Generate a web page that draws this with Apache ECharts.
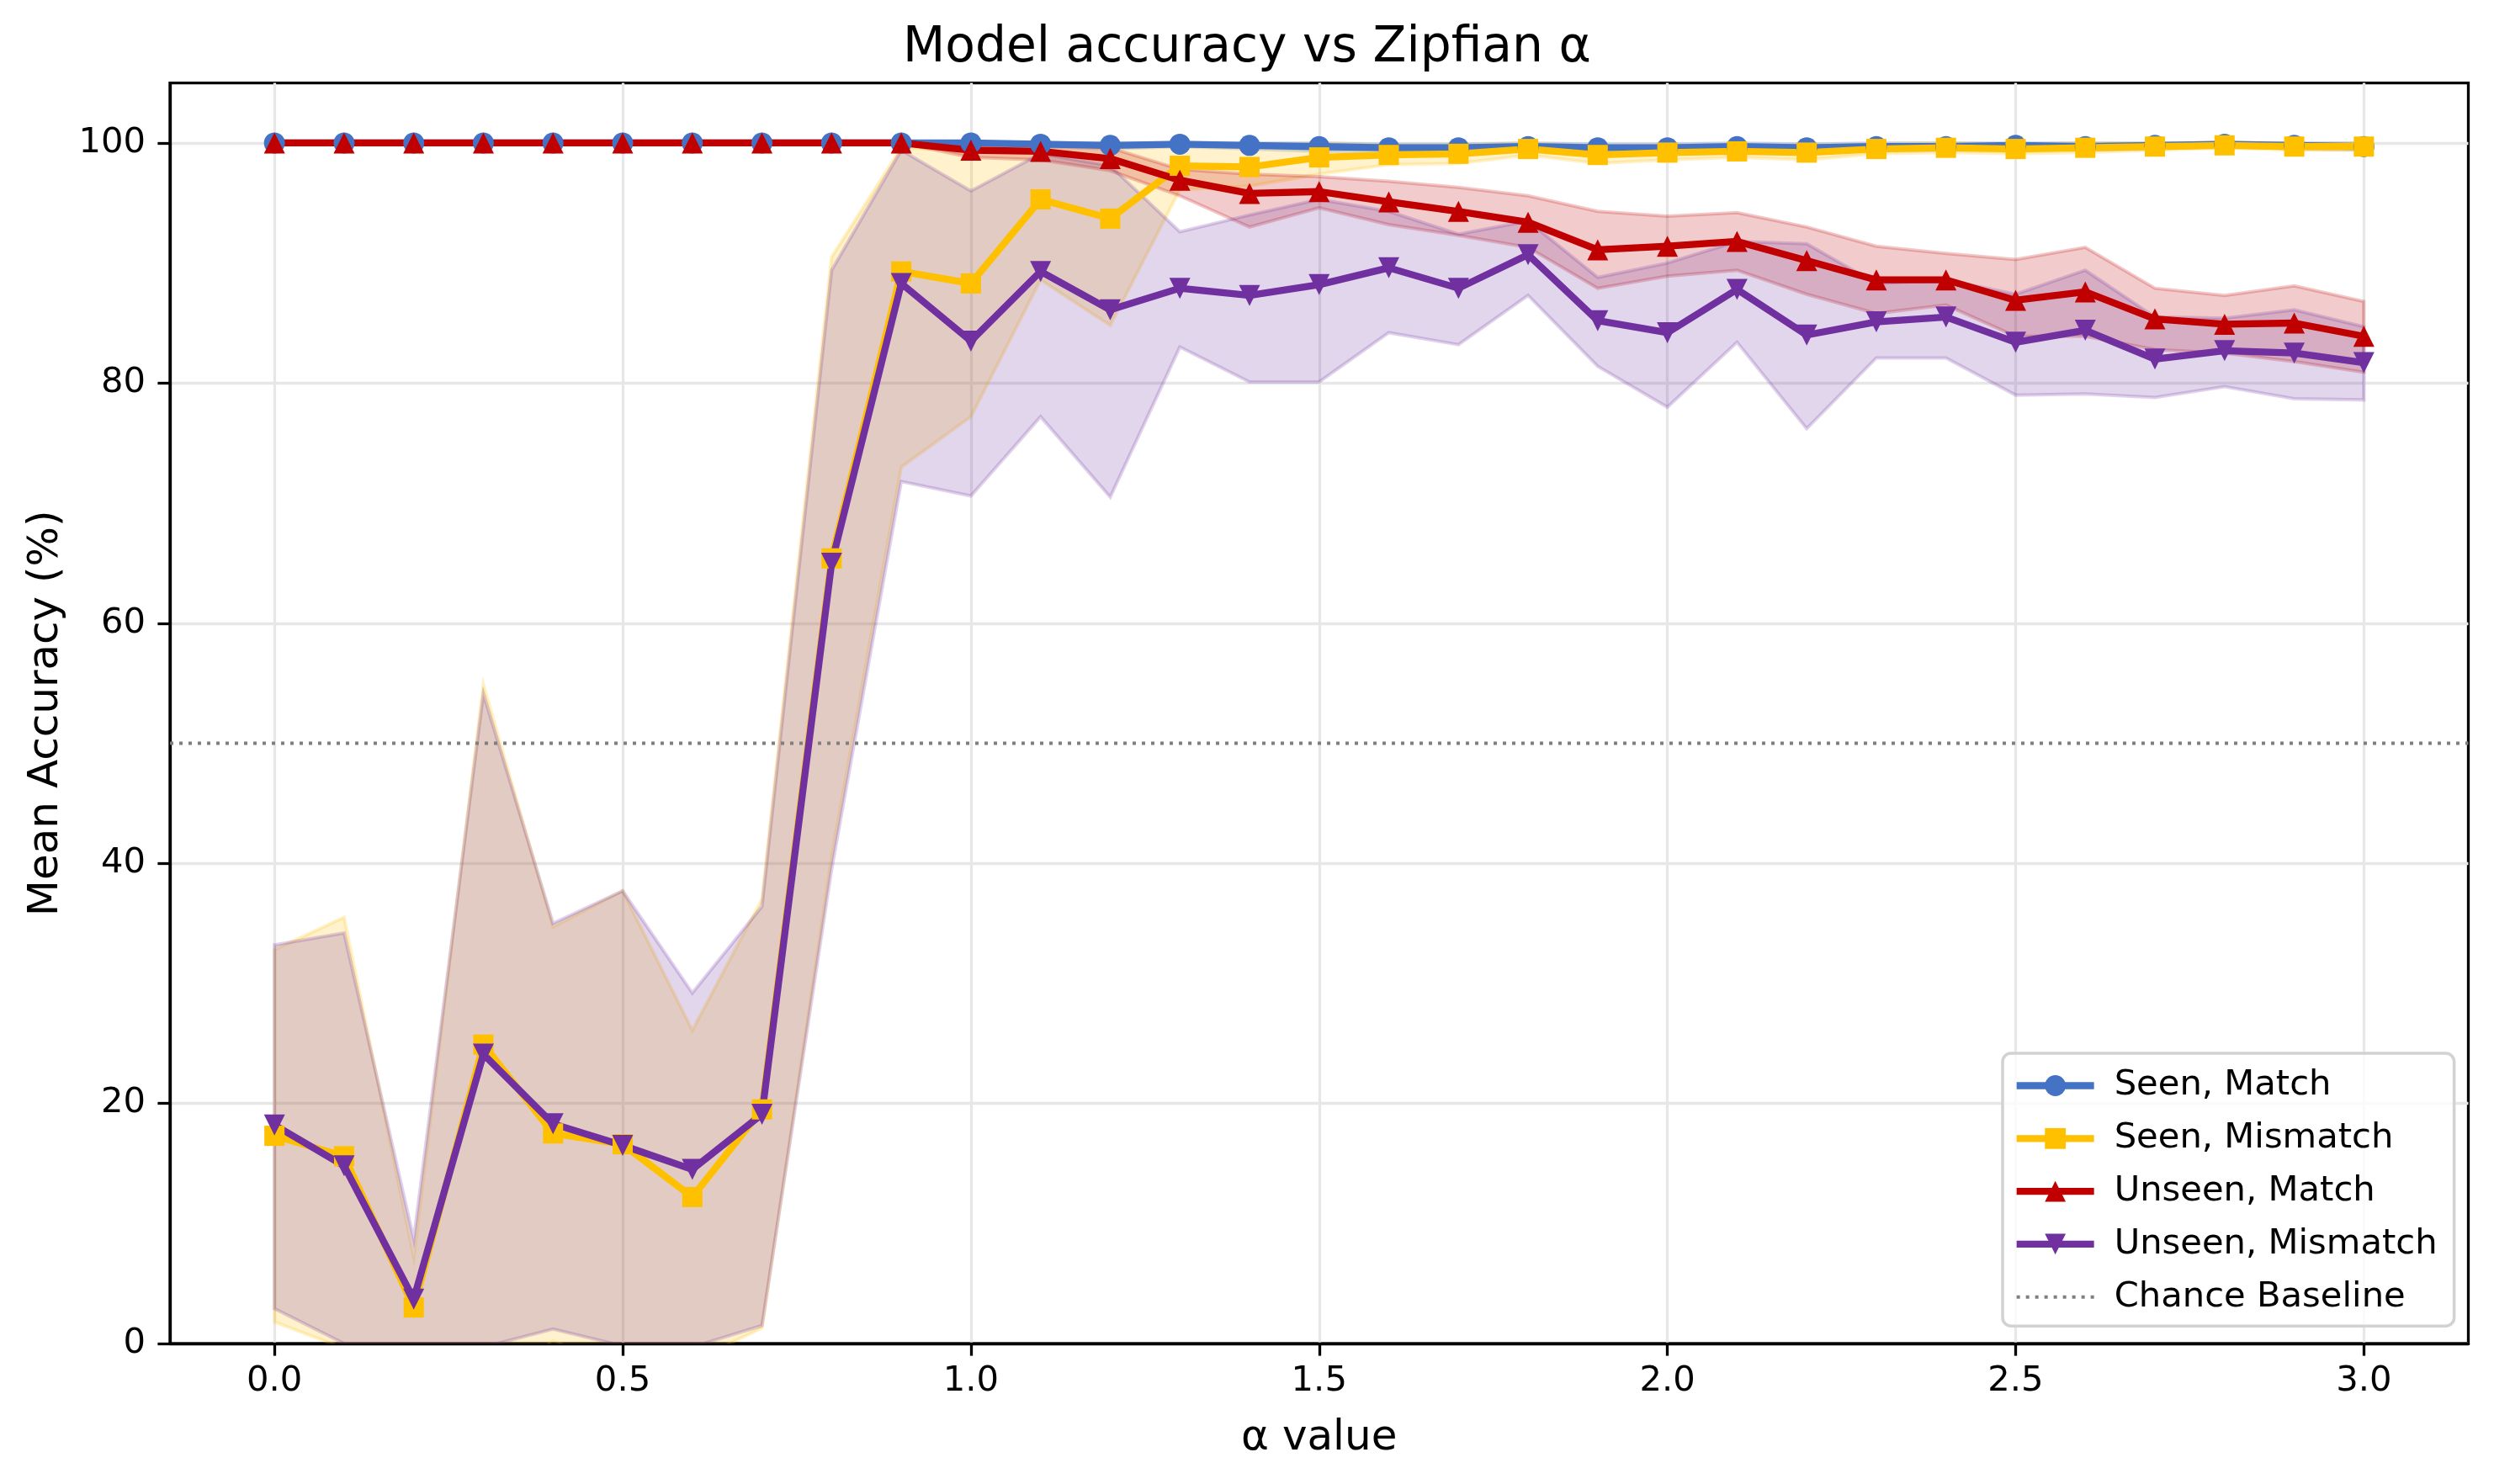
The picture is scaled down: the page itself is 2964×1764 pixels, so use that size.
<!DOCTYPE html>
<html>
<head>
<meta charset="utf-8">
<title>Model accuracy vs Zipfian α</title>
<script src="https://cdn.jsdelivr.net/npm/echarts@6/dist/echarts.min.js"></script>
<style>
html, body { margin: 0; padding: 0; background: #ffffff; }
#chart { width: 2964px; height: 1764px; }
</style>
</head>
<body>
<div id="chart"></div>
<script>
// alpha values on the x axis
var alphas = [0.0, 0.1, 0.2, 0.3, 0.4, 0.5, 0.6, 0.7, 0.8, 0.9, 1.0,
              1.1, 1.2, 1.3, 1.4, 1.5, 1.6, 1.7, 1.8, 1.9, 2.0,
              2.1, 2.2, 2.3, 2.4, 2.5, 2.6, 2.7, 2.8, 2.9, 3.0];

var xTicks = [0, 0.5, 1.0, 1.5, 2.0, 2.5, 3.0];
var yTicks = [0, 20, 40, 60, 80, 100];
var chanceLevel = 50;

// Seen, Match
var seenMatch   = [100, 100, 100, 100, 100, 100, 100, 100, 100, 100, 100.0,
                   99.9, 99.8, 99.9, 99.8, 99.7, 99.6, 99.6, 99.7, 99.6, 99.6,
                   99.7, 99.6, 99.7, 99.7, 99.8, 99.7, 99.8, 99.9, 99.8, 99.7];
var seenMatchHi = [100, 100, 100, 100, 100, 100, 100, 100, 100, 100, 100,
                   100, 100, 100, 100, 100, 99.9, 99.9, 100, 99.9, 99.9,
                   100, 99.9, 100, 100, 100, 100, 100, 100, 100, 100];
var seenMatchLo = [100, 100, 100, 100, 100, 100, 100, 100, 100, 100, 99.9,
                   99.7, 99.5, 99.7, 99.5, 99.3, 99.3, 99.2, 99.4, 99.2, 99.2,
                   99.3, 99.2, 99.4, 99.4, 99.5, 99.4, 99.5, 99.7, 99.5, 99.4];

// Seen, Mismatch
var seenMismatch   = [17.3, 15.6, 3.0, 24.9, 17.5, 16.6, 12.2, 19.5, 65.4, 89.3, 88.3,
                      95.3, 93.7, 98.1, 98.0, 98.8, 99.0, 99.1, 99.5, 99.0, 99.2,
                      99.3, 99.2, 99.5, 99.6, 99.5, 99.6, 99.7, 99.8, 99.7, 99.7];
var seenMismatchHi = [32.8, 35.5, 7.2, 54.9, 34.7, 37.7, 26.1, 37.0, 90.5, 99.6, 99.4,
                      100, 99.8, 100, 99.7, 100, 99.8, 99.8, 100, 99.7, 99.8,
                      99.8, 99.8, 99.9, 100, 99.9, 100, 100, 100, 100, 100];
var seenMismatchLo = [1.8, -0.4, -5.0, -4.0, 0.2, -2.0, -1.5, 1.3, 40.5, 73.0, 77.2,
                      88.6, 84.8, 96.1, 96.4, 97.4, 98.2, 98.3, 99.0, 98.3, 98.6,
                      98.8, 98.6, 99.1, 99.2, 99.1, 99.2, 99.4, 99.6, 99.4, 99.4];

// Unseen, Match
var unseenMatch   = [100, 100, 100, 100, 100, 100, 100, 100, 100, 100, 99.4,
                     99.3, 98.7, 96.9, 95.8, 95.95, 95.1, 94.3, 93.4, 91.1, 91.4,
                     91.8, 90.2, 88.6, 88.6, 86.9, 87.6, 85.35, 84.9, 85.0, 83.9];
var unseenMatchHi = [100, 100, 100, 100, 100, 100, 100, 100, 100, 100, 100,
                     100, 99.6, 97.8, 97.4, 97.2, 96.8, 96.3, 95.6, 94.3, 93.9,
                     94.2, 93.0, 91.4, 90.8, 90.3, 91.3, 87.9, 87.3, 88.1, 86.8];
var unseenMatchLo = [100, 100, 100, 100, 100, 100, 100, 100, 100, 100, 98.8,
                     98.6, 97.7, 95.6, 93.0, 94.6, 93.2, 92.3, 91.3, 87.9, 88.9,
                     89.4, 87.4, 85.8, 86.5, 83.9, 83.9, 82.8, 82.5, 81.8, 80.9];

// Unseen, Mismatch
var unseenMismatch   = [18.2, 14.8, 3.7, 24.1, 18.3, 16.5, 14.5, 19.1, 65.0, 88.3, 83.5,
                        89.3, 86.1, 87.9, 87.3, 88.2, 89.6, 87.9, 90.7, 85.2, 84.2,
                        87.8, 84.0, 85.1, 85.5, 83.4, 84.4, 82.0, 82.7, 82.5, 81.7];
var unseenMismatchHi = [33.2, 34.2, 8.7, 54.1, 35.0, 37.7, 29.2, 36.4, 89.4, 99.4, 96.0,
                        99.1, 98.1, 92.6, 94.0, 95.3, 94.3, 92.4, 93.5, 88.8, 90.0,
                        91.8, 91.6, 88.3, 88.6, 87.4, 89.4, 85.5, 85.4, 86.1, 84.7];
var unseenMismatchLo = [2.9, 0.0, -3.0, -0.3, 1.2, -0.2, -0.3, 1.5, 39.5, 71.8, 70.6,
                        77.2, 70.5, 83.0, 80.1, 80.1, 84.2, 83.2, 87.3, 81.4, 78.0,
                        83.4, 76.2, 82.1, 82.1, 79.0, 79.1, 78.8, 79.7, 78.7, 78.6];

var FONT = 'DejaVu Sans';

var conds = [
    { name: 'Seen, Match', color: '#4472C4', rgb: '68,114,196', symbol: 'circle', size: 25,
      mean: seenMatch, hi: seenMatchHi, lo: seenMatchLo },
    { name: 'Seen, Mismatch', color: '#FFC000', rgb: '255,192,0', symbol: 'rect', size: 24,
      mean: seenMismatch, hi: seenMismatchHi, lo: seenMismatchLo },
    { name: 'Unseen, Match', color: '#C00000', rgb: '192,0,0', symbol: 'triangle', size: 25,
      mean: unseenMatch, hi: unseenMatchHi, lo: unseenMatchLo },
    { name: 'Unseen, Mismatch', color: '#7030A0', rgb: '112,48,160', symbol: 'path://M0,0 L2,0 L1,2 Z', size: 25,
      mean: unseenMismatch, hi: unseenMismatchHi, lo: unseenMismatchLo }
];

function pairs(vals) {
    var out = [];
    for (var i = 0; i < alphas.length; i++) {
        out.push([alphas[i], vals[i]]);
    }
    return out;
}

// one filled polygon per condition: upper edge forward, lower edge back
function bandRenderer(c) {
    return function (params, api) {
        if (params.dataIndex !== 0) return null;
        var pts = [];
        for (var i = 0; i < alphas.length; i++) {
            pts.push(api.coord([alphas[i], c.hi[i]]));
        }
        for (var j = alphas.length - 1; j >= 0; j--) {
            pts.push(api.coord([alphas[j], c.lo[j]]));
        }
        return {
            type: 'polygon',
            shape: { points: pts },
            style: { fill: 'rgba(' + c.rgb + ',0.2)', stroke: 'rgba(' + c.rgb + ',0.22)', lineWidth: 4 }
        };
    };
}

var series = [];

conds.forEach(function (c, idx) {
    var rows = [];
    for (var i = 0; i < alphas.length; i++) {
        rows.push([alphas[i], c.lo[i], c.hi[i]]);
    }
    series.push({
        type: 'custom', name: 'band-' + idx, data: rows,
        encode: { x: 0, y: [1, 2] },
        renderItem: bandRenderer(c), clip: true, silent: true, z: 1
    });
});

// chance baseline
series.push({
    type: 'line', name: 'Chance Baseline', data: [[-0.15, chanceLevel], [3.15, chanceLevel]],
    symbol: 'none', z: 2, silent: true,
    lineStyle: { color: '#7f7f7f', width: 4, type: [4, 7], cap: 'butt' }
});

// mean lines with markers
conds.forEach(function (c) {
    series.push({
        type: 'line', name: c.name, data: pairs(c.mean), z: 3,
        symbol: c.symbol, symbolSize: c.size, showAllSymbol: true,
        itemStyle: { color: c.color, opacity: 1 },
        lineStyle: { color: c.color, width: 8.3 }
    });
});

var legendItems = conds.map(function (c) {
    return { name: c.name, lineStyle: { width: 8.3 } };
});
legendItems.push({ name: 'Chance Baseline', lineStyle: { width: 4 }, itemStyle: { opacity: 0 } });

var chart = echarts.init(document.getElementById('chart'), null, { renderer: 'canvas' });

chart.setOption({
    animation: false,
    backgroundColor: '#ffffff',
    title: {
        text: 'Model accuracy vs Zipfian α',
        left: 'center',
        top: 24,
        textStyle: { fontFamily: FONT, fontSize: 58.3, lineHeight: 58, fontWeight: 'normal', color: '#000' }
    },
    grid: {
        left: 202, top: 98.6, width: 2731.5, height: 1498.4,
        show: true, borderColor: '#000', borderWidth: 3.3, backgroundColor: 'transparent'
    },
    legend: {
        data: legendItems,
        orient: 'vertical',
        left: 2380, top: 1252,
        padding: [17.5, 20, 13.5, 12.5],
        itemWidth: 92, itemHeight: 31, itemGap: 20.8,
        selectedMode: false,
        backgroundColor: 'rgba(255,255,255,0.8)',
        borderColor: '#d2d2d2', borderWidth: 3.5, borderRadius: 10,
        textStyle: { fontFamily: FONT, fontSize: 41.7, lineHeight: 31, color: '#000', padding: [0, 0, 0, 19] }
    },
    xAxis: {
        type: 'value', min: -0.15, max: 3.15,
        name: 'α value', nameLocation: 'middle', nameGap: 88,
        nameTextStyle: { fontFamily: FONT, fontSize: 50, lineHeight: 50, color: '#000' },
        axisLine: { show: true, onZero: false, lineStyle: { color: '#000', width: 3.3 } },
        axisTick: { show: true, length: 14.6, customValues: xTicks, lineStyle: { color: '#000', width: 3.3 } },
        axisLabel: {
            customValues: xTicks, margin: 24,
            fontFamily: FONT, fontSize: 41.7, lineHeight: 41.7, color: '#000',
            formatter: function (v) { return v.toFixed(1); }
        },
        splitLine: { show: true, lineStyle: { color: '#e7e7e7', width: 3.3 } }
    },
    yAxis: {
        type: 'value', min: 0, max: 105,
        name: 'Mean Accuracy (%)', nameLocation: 'middle', nameRotate: 90, nameGap: 122,
        nameTextStyle: { fontFamily: FONT, fontSize: 50, lineHeight: 50, color: '#000' },
        axisLine: { show: true, onZero: false, lineStyle: { color: '#000', width: 3.3 } },
        axisTick: { show: true, length: 14.6, customValues: yTicks, lineStyle: { color: '#000', width: 3.3 } },
        axisLabel: {
            customValues: yTicks, margin: 29,
            fontFamily: FONT, fontSize: 41.7, color: '#000'
        },
        splitLine: { show: true, lineStyle: { color: '#e7e7e7', width: 3.3 } }
    },
    series: series
});
</script>
</body>
</html>
